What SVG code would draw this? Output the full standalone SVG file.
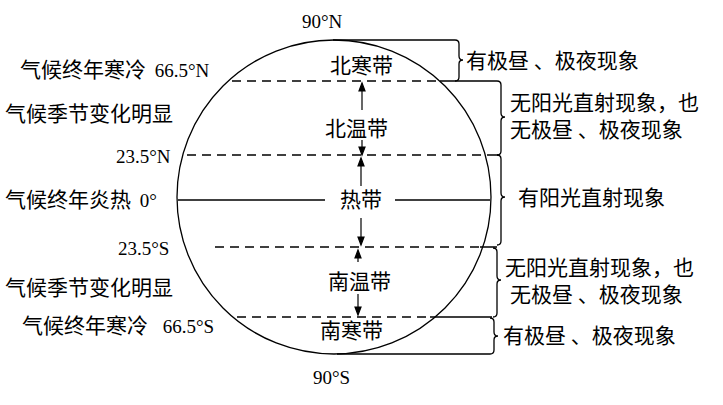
<svg xmlns="http://www.w3.org/2000/svg" width="723" height="405" viewBox="0 0 723 405">
<style>
text{font-family:"Noto Sans CJK SC","Liberation Serif",serif;font-size:21px;fill:#000}
.s{font-family:"Liberation Serif",serif;font-size:19px}
.d{stroke:#000;stroke-width:1.5;stroke-dasharray:9,6;fill:none}
.l{stroke:#000;stroke-width:1.3;fill:none}
</style>
<rect width="723" height="405" fill="#fff"/>
<g id="earth"><ellipse cx="334" cy="197" rx="157" ry="157" class="l" stroke-width="1.6"/></g>
<g id="connectors">
<line x1="232" y1="81" x2="440" y2="81" class="d"/>
<line x1="187" y1="155" x2="490" y2="155" class="d"/>
<line x1="178" y1="200" x2="325" y2="200" class="l"/>
<line x1="395" y1="200" x2="490" y2="200" class="l"/>
<line x1="215" y1="247" x2="480" y2="247" class="d"/>
<line x1="237" y1="317" x2="430" y2="317" class="d"/>
<path class="l" d="M333 40H455M440 81H497M490 155H500M480 247H497M430 317H492M337 354H490"/>
<path class="l" d="M455 40q4 0 4 4v12q0 4 4 4q-4 0-4 4v13q0 4-4 4"/>
<path class="l" d="M497 81q4 0 4 4v28q0 4 4 4q-4 0-4 4v30q0 4-4 4"/>
<path class="l" d="M497 155q4 0 4 4v34q0 4 4 4q-4 0-4 4v40q0 4-4 4"/>
<path class="l" d="M493 248q4 0 4 4v24q0 4 4 4q-4 0-4 4v29q0 4-4 4"/>
<path class="l" d="M490 318q4 0 4 4v10q0 4 4 4q-4 0-4 4v10q0 4-4 4"/>
<g stroke="#000" stroke-width="1.2" fill="#000">
<line x1="362" y1="88" x2="362" y2="110"/><path d="M362 83l-3 8h6z"/>
<line x1="362" y1="140" x2="362" y2="150"/><path d="M362 155l-3-8h6z"/>
<line x1="361" y1="163" x2="361" y2="186"/><path d="M361 158l-3 8h6z"/>
<line x1="361" y1="218" x2="361" y2="240"/><path d="M361 245l-3-8h6z"/>
<line x1="358" y1="255" x2="358" y2="262"/><path d="M358 250l-3 8h6z"/>
<line x1="358" y1="294" x2="358" y2="310"/><path d="M358 315l-3-8h6z"/>
</g>
</g>
<g id="labels">
<text class="s" x="302" y="28">90°N</text>
<text class="s" x="313" y="384">90°S</text>
<text x="330" y="73">北寒带</text>
<text x="325" y="136">北温带</text>
<text x="340" y="207">热带</text>
<text x="328" y="289">南温带</text>
<text x="320" y="338">南寒带</text>
<text x="20" y="77">气候终年寒冷 <tspan class="s" dx="4">66.5°N</tspan></text>
<text x="5" y="121">气候季节变化明显</text>
<text class="s" x="116" y="163">23.5°N</text>
<text x="5" y="207">气候终年炎热 <tspan class="s" dx="4">0°</tspan></text>
<text class="s" x="118" y="255">23.5°S</text>
<text x="5" y="295">气候季节变化明显</text>
<text x="22" y="333">气候终年寒冷 <tspan class="s" dx="10">66.5°S</tspan></text>
<text x="466" y="68">有极昼 、极夜现象</text>
<text x="510" y="110">无阳光直射现象，也</text>
<text x="510" y="137">无极昼 、极夜现象</text>
<text x="518" y="205">有阳光直射现象</text>
<text x="505" y="275">无阳光直射现象，也</text>
<text x="510" y="302">无极昼 、极夜现象</text>
<text x="503" y="343">有极昼 、极夜现象</text>
</g>
</svg>
